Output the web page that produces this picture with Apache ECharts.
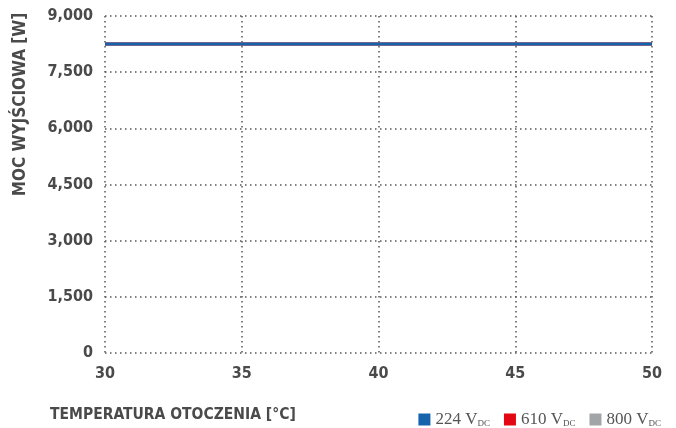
<!DOCTYPE html>
<html>
<head>
<meta charset="utf-8">
<script src="https://cdn.jsdelivr.net/npm/echarts@6/dist/echarts.min.js"></script>
<style>
  html, body { margin: 0; padding: 0; background: #fff; }
  #chart { width: 676px; height: 428px; }
</style>
</head>
<body>
<div id="chart"></div>
<script>
// temperatura otoczenia [°C]
var temps = [30, 50];
// moc wyjściowa [W] dla każdego napięcia DC
var p224 = [8250, 8250];
var p610 = [8250, 8250];
var p800 = [8250, 8250];
var seriesNames = ['224', '610', '800'];

var labelFont = '"DejaVu Sans Condensed", "DejaVu Sans", sans-serif';
var textColor = '#4a4a4a';

function pairs(ys) {
    return temps.map(function (t, i) { return [t, ys[i]]; });
}

var myChart = echarts.init(document.getElementById('chart'));

var dotted = { type: [1.5, 3.5], color: '#555', width: 1.5 };

var option = {
    animation: false,
    grid: {
        left: 105,
        right: 24,
        top: 16,
        bottom: 75
    },
    title: {
        text: 'TEMPERATURA OTOCZENIA [°C]',
        left: 45,
        top: 402,
        textStyle: {
            fontFamily: labelFont,
            fontWeight: 'bold',
            fontSize: 15.5,
            color: textColor
        }
    },
    legend: {
        data: seriesNames,
        right: 10,
        top: 406,
        itemWidth: 12,
        itemHeight: 12,
        itemGap: 14,
        icon: 'rect',
        formatter: function (name) { return name + ' V{sub|DC}'; },
        textStyle: {
            fontFamily: '"Liberation Serif", serif',
            fontSize: 17,
            color: '#555',
            rich: {
                sub: {
                    fontFamily: '"Liberation Serif", serif',
                    fontSize: 9,
                    color: '#555',
                    verticalAlign: 'bottom',
                    padding: [7, 0, 0, 0]
                }
            }
        }
    },
    xAxis: {
        type: 'value',
        min: 30,
        max: 50,
        interval: 5,
        axisLine: { show: false },
        axisTick: { show: false },
        splitLine: { show: true, lineStyle: dotted },
        axisLabel: {
            margin: 13,
            fontFamily: labelFont,
            fontWeight: 'bold',
            fontSize: 16,
            color: textColor
        }
    },
    yAxis: {
        type: 'value',
        min: 0,
        max: 9000,
        interval: 1500,
        name: 'MOC WYJŚCIOWA [W]',
        nameLocation: 'middle',
        nameGap: 76,
        nameRotate: 90,
        nameTextStyle: {
            fontFamily: labelFont,
            fontWeight: 'bold',
            fontSize: 17,
            color: textColor,
            padding: [0, 0, 0, 160]
        },
        axisLine: { show: false },
        axisTick: { show: false },
        splitLine: { show: true, lineStyle: dotted },
        axisLabel: {
            margin: 12,
            fontFamily: labelFont,
            fontWeight: 'bold',
            fontSize: 16,
            color: textColor,
            formatter: function (v) { return v.toLocaleString('en-US'); }
        }
    },
    series: [
        {
            name: '800',
            type: 'line',
            symbol: 'none',
            lineStyle: { width: 3 },
            data: pairs(p800)
        },
        {
            name: '610',
            type: 'line',
            symbol: 'none',
            lineStyle: { width: 3 },
            data: pairs(p610)
        },
        {
            name: '224',
            type: 'line',
            symbol: 'none',
            lineStyle: { width: 3 },
            data: pairs(p224)
        }
    ],
    color: ['#a2a5a8', '#e30613', '#1562ad']
};

myChart.setOption(option);

window.onresize = function () {
    myChart.resize();
};
</script>
</body>
</html>
